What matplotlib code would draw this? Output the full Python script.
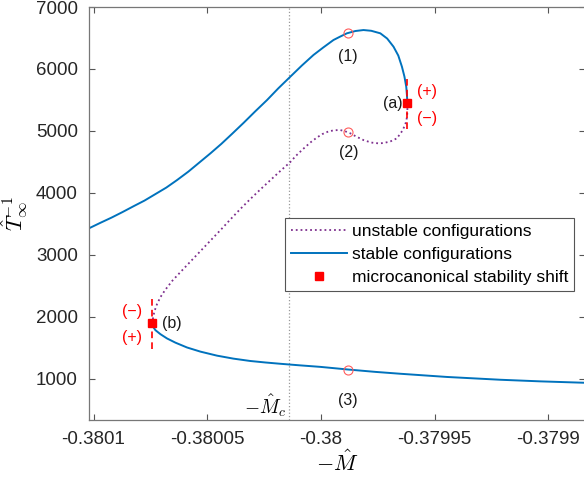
import matplotlib
matplotlib.use("Agg")
import matplotlib.pyplot as plt

plt.rcParams["font.family"] = ["Liberation Sans", "DejaVu Sans"]
plt.rcParams["mathtext.fontset"] = "cm"

# Ramo estavel superior (da borda esquerda ate o ponto (a))
upper_x = [-0.3801018, -0.3800970, -0.3800921, -0.3800873, -0.3800823, -0.3800776,
           -0.3800728, -0.3800680, -0.3800633, -0.3800583, -0.3800535, -0.3800486,
           -0.3800438, -0.3800390, -0.3800340, -0.3800289, -0.3800237, -0.3800188,
           -0.3800135, -0.3800084, -0.3800033, -0.3799990, -0.3799945, -0.3799915,
           -0.3799886, -0.3799849, -0.3799813, -0.3799779, -0.3799739, -0.3799709,
           -0.3799681, -0.3799660, -0.3799644, -0.3799633, -0.3799625, -0.3799622,
           -0.3799620]
upper_y = [3430, 3515, 3599, 3688, 3785, 3874, 3979, 4084, 4205, 4342, 4488, 4637,
           4790, 4955, 5130, 5315, 5498, 5685, 5874, 6055, 6225, 6346, 6467, 6523,
           6575, 6612, 6628, 6616, 6575, 6491, 6359, 6216, 6036, 5877, 5712, 5578,
           5444]

# Ramo instavel (de (a) ate (b))
unst_x = [-0.3799620, -0.3799620, -0.3799621, -0.3799624, -0.3799630, -0.3799643,
          -0.3799666, -0.3799696, -0.3799726, -0.3799747, -0.3799779, -0.3799813,
          -0.3799845, -0.3799871, -0.3799893, -0.3799915, -0.3799942, -0.3799968,
          -0.3799994, -0.3800018, -0.3800047, -0.3800078, -0.3800109, -0.3800135,
          -0.3800179, -0.3800223, -0.3800267, -0.3800311, -0.3800355, -0.3800399,
          -0.3800442, -0.3800486, -0.3800530, -0.3800574, -0.3800618, -0.3800653,
          -0.3800684, -0.3800706, -0.3800721, -0.3800732, -0.3800738, -0.3800741]
unst_y = [5444, 5336, 5255, 5174, 5094, 4997, 4879, 4827, 4803, 4798, 4811, 4851,
          4908, 4960, 4992, 5013, 5010, 4989, 4948, 4892, 4811, 4709, 4601, 4496,
          4351, 4202, 4052, 3898, 3737, 3567, 3397, 3228, 3058, 2889, 2719, 2582,
          2436, 2315, 2202, 2089, 1992, 1890]

# Ramo estavel inferior (de (b) ate a borda direita)
lower_x = [-0.3800741, -0.3800737, -0.3800728, -0.3800706, -0.3800677, -0.3800640,
           -0.3800589, -0.3800530, -0.3800457, -0.3800385, -0.3800311, -0.3800245,
           -0.3800179, -0.3800091, -0.3800003, -0.3799883, -0.3799761, -0.3799652,
           -0.3799446, -0.3799212, -0.3799036, -0.3798839]
lower_y = [1890, 1830, 1782, 1717, 1648, 1580, 1502, 1435, 1370, 1322, 1284, 1260,
           1239, 1213, 1189, 1147, 1108, 1078, 1026, 981, 955, 932]

# Pontos de mudanca de estabilidade (a) e (b)
shift_x = [-0.3799620, -0.3800741]
shift_y = [5450, 1890]
shift_names = ["(a)", "(b)"]

# Configuracoes marcadas com circulos
circ_x = [-0.379988, -0.379988, -0.379988]
circ_y = [6575, 4975, 1140]
circ_names = ["(1)", "(2)", "(3)"]

M_c = -0.3800139

xtick_vals = [-0.3801, -0.38005, -0.38, -0.37995, -0.3799]
xtick_labels = ["-0.3801", "-0.38005", "-0.38", "-0.37995", "-0.3799"]
ytick_vals = [1000, 2000, 3000, 4000, 5000, 6000, 7000]

blue = "#0072BD"
purple = "#7E2F8E"

fig = plt.figure(figsize=(5.84, 4.87), dpi=100)
ax = fig.add_axes([89 / 584, 1 - 420 / 487, 496 / 584, 413 / 487])

ax.axvline(M_c, color="#999999", linestyle=":", lw=0.9, zorder=1)
ax.plot(unst_x, unst_y, ":", color=purple, lw=1.3, label="unstable configurations")
ax.plot(upper_x, upper_y, "-", color=blue, lw=1.4, label="stable configurations")
ax.plot(lower_x, lower_y, "-", color=blue, lw=1.4)
ax.plot(shift_x, shift_y, "s", color="red", ms=5.5, ls="none",
        label="microcanonical stability shift", zorder=5)

# Linhas tracejadas vermelhas nos pontos de mudanca
for sx, sy in zip(shift_x, shift_y):
    ax.plot([sx, sx], [sy - 420, sy + 420], color="red", lw=1.2,
            ls=(0, (4, 2.5)), zorder=4)

ax.plot(circ_x, circ_y, "o", mfc="none", mec="#ff5c5c", ms=6.5, mew=0.8, zorder=6)

txt = dict(fontsize=11.5, color="#1a1a1a", ha="center", va="center")
ax.text(circ_x[0], 6205, circ_names[0], **txt)
ax.text(circ_x[1], 4645, circ_names[1], **txt)
ax.text(circ_x[2], 640, circ_names[2], **txt)
ax.text(-0.3799686, 5444, shift_names[0], **txt)
ax.text(-0.3800657, 1890, shift_names[1], **txt)

red = dict(fontsize=11.5, color="red", ha="center", va="center")
ax.text(-0.3799535, 5630, "(+)", **red)
ax.text(-0.3799535, 5200, "(−)", **red)
ax.text(-0.3800829, 2090, "(−)", **red)
ax.text(-0.3800829, 1665, "(+)", **red)

ax.text(M_c - 0.0000013, 570, r"$-\hat{M}_c$", fontsize=14, ha="right", va="center")

ax.set_xlim(-0.380102, -0.3798839)
ax.set_ylim(331, 7000)
ax.set_xticks(xtick_vals, xtick_labels)
ax.set_yticks(ytick_vals)
ax.tick_params(direction="in", top=True, right=True, length=4, width=0.8,
               labelsize=13.5, colors="#555555", labelcolor="#262626", pad=8)
for s in ax.spines.values():
    s.set_color("#777777")
    s.set_linewidth(0.9)

ax.set_xlabel(r"$-\hat{M}$", fontsize=16, labelpad=2)
ax.set_ylabel(r"$\hat{T}_\infty^{-1}$", fontsize=16, labelpad=4)

leg = ax.legend(loc="upper left", bbox_to_anchor=(0.395, 0.489), borderaxespad=0,
                fontsize=12.5, handlelength=3.2, handletextpad=0.3, labelspacing=0.45,
                fancybox=False, framealpha=1, edgecolor="#555555", borderpad=0.35)
leg.get_frame().set_linewidth(0.8)

fig.savefig("out.png", dpi=100)
